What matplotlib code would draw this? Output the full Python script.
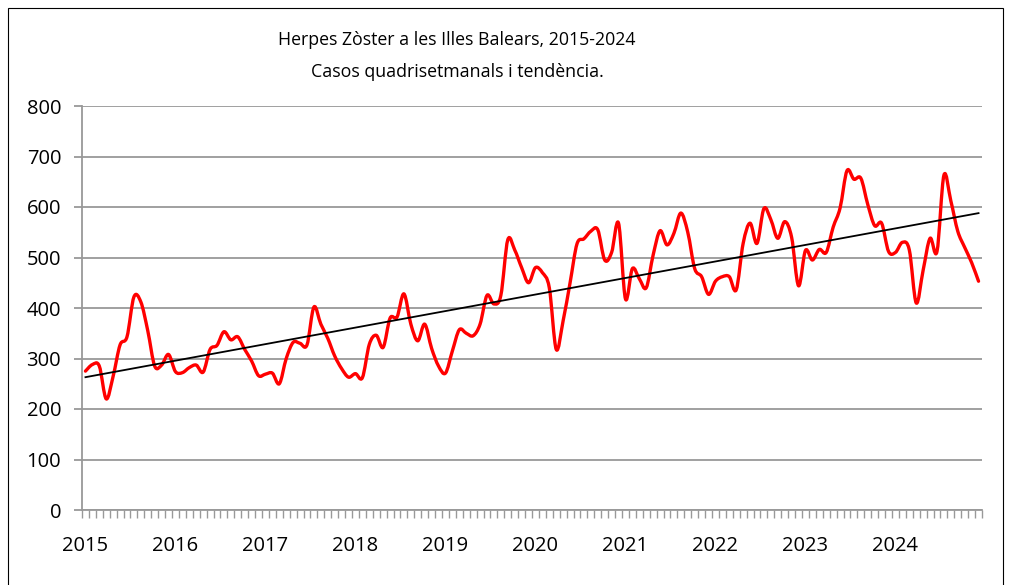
import numpy as np
import matplotlib
matplotlib.use("Agg")
import matplotlib.pyplot as plt
from matplotlib.path import Path
from matplotlib.patches import PathPatch, Rectangle

plt.rcParams['font.family'] = ['Open Sans', 'DejaVu Sans']

title = "Herpes Zòster a les Illes Balears, 2015-2024\nCasos quadrisetmanals i tendència."
years = ["2015", "2016", "2017", "2018", "2019", "2020", "2021", "2022", "2023", "2024"]
periods_per_year = 13

cases = [
    275, 288, 285, 220, 265, 327, 343, 422, 412, 355, 285, 287, 308,
    274, 272, 282, 287, 273, 318, 326, 353, 337, 343, 318, 295, 266,
    269, 271, 250, 300, 332, 330, 327, 402, 368, 340, 305, 280, 263,
    270, 262, 328, 346, 322, 380, 382, 428, 368, 335, 368, 320, 285,
    271, 315, 357, 350, 345, 368, 425, 408, 425, 535, 515, 480, 450,
    480, 470, 440, 318, 375, 450, 527, 537, 552, 555, 495, 510, 568,
    418, 478, 458, 440, 505, 553, 525, 548, 588, 550, 478, 462, 427,
    453, 462, 462, 436, 528, 568, 528, 597, 575, 538, 571, 540, 444,
    514, 495, 516, 510, 560, 598, 672, 655, 657, 605, 563, 568, 512,
    510, 530, 515, 410, 475, 538, 512, 663, 612, 552, 520, 490, 453,
]

y = np.array(cases, dtype=float)
x = np.arange(len(y), dtype=float)

fig = plt.figure(figsize=(10.11, 5.85), dpi=100)
ax = fig.add_axes([82/1011, 1-510/585, 900/1011, 404/585])

# smoothed line (Bezier, Excel-like)
pts = np.column_stack([x, y])
verts = [pts[0]]
codes = [Path.MOVETO]
n = len(pts)
for i in range(n-1):
    p0 = pts[i-1] if i > 0 else pts[i]
    p1 = pts[i]
    p2 = pts[i+1]
    p3 = pts[i+2] if i+2 < n else pts[i+1]
    c1 = p1 + (p2 - p0) / 6.0
    c2 = p2 - (p3 - p1) / 6.0
    verts += [c1, c2, p2]
    codes += [Path.CURVE4]*3
ax.add_patch(PathPatch(Path(verts, codes), fill=False, edgecolor='#ff0000',
                       lw=2.4, capstyle='round', joinstyle='round', zorder=4))

# trend line
coef = np.polyfit(x, y, 1)
ax.plot([x[0], x[-1]], np.polyval(coef, [x[0], x[-1]]), color='black', lw=1.3, zorder=5)

ax.set_xlim(-0.5, len(y) - 0.5)
ax.set_ylim(0, 800)
ax.set_yticks(np.arange(0, 801, 100))
ax.grid(axis='y', color='#999999', lw=1.3)
ax.set_axisbelow(True)

for s in ['top', 'right']:
    ax.spines[s].set_visible(False)
for s in ['left', 'bottom']:
    ax.spines[s].set_color('#999999')
    ax.spines[s].set_linewidth(1.3)

ax.set_xticks(np.arange(0, len(y), periods_per_year))
ax.set_xticklabels(years)
ax.set_xticks(np.arange(-0.5, len(y), 1), minor=True)
ax.tick_params(axis='x', which='major', length=0, pad=19, labelsize=14.5)
ax.tick_params(axis='x', which='minor', length=6, width=1, color='#999999', direction='out')
ax.tick_params(axis='y', length=6, width=1.3, color='#999999', pad=9, labelsize=14.5)

fig.text(0.452, 1-56/585, title, ha='center', va='center', fontsize=12.8, linespacing=1.95)

fig.patches.append(Rectangle((8/1011, -0.05), (1003-8)/1011, 1.05-8/585, transform=fig.transFigure,
                             fill=False, edgecolor='black', lw=0.8))

fig.savefig('out.png', dpi=100)
